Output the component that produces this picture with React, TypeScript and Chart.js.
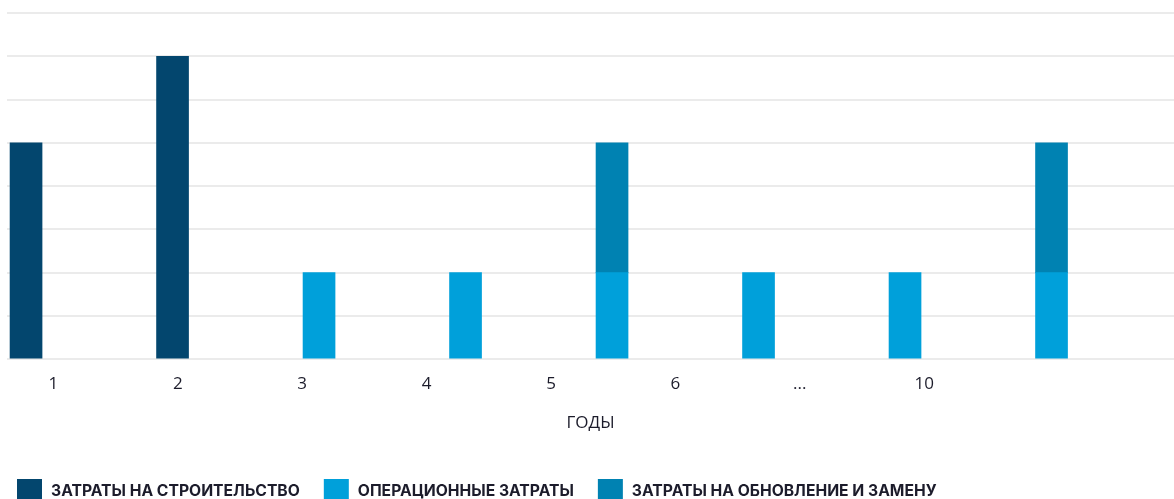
import React, { useEffect, useRef } from 'react';
import { Chart, registerables } from 'chart.js';

Chart.register(...registerables);

// Year labels along the bottom axis
const YEAR_LABELS = ['1', '2', '3', '4', '5', '6', '...', '10'];

// Cost components per year slot (gridline units)
const CONSTRUCTION_COSTS: (number | null)[] = [5, 7, null, null, null, null, null, null];
const OPERATING_COSTS: (number | null)[] = [null, null, 2, 2, 2, 2, 2, 2];
const RENEWAL_COSTS: (number | null)[] = [null, null, null, null, 3, null, null, 3];

const SERIES_LABELS = [
  'ЗАТРАТЫ НА СТРОИТЕЛЬСТВО',
  'ОПЕРАЦИОННЫЕ ЗАТРАТЫ',
  'ЗАТРАТЫ НА ОБНОВЛЕНИЕ И ЗАМЕНУ',
];
const SERIES_COLORS = ['#03466e', '#00a0da', '#0082b2'];

const AXIS_TITLE = 'ГОДЫ';

// Value range of the cost axis
const Y_MIN = 0;
const Y_MAX = 8;

// Ranges of the two horizontal axes: one places the bars, the other the year labels
const BAR_AXIS_MIN = -0.13;
const BAR_AXIS_MAX = 7.836;
const YEAR_AXIS_MIN = -0.373;
const YEAR_AXIS_MAX = 9.008;

const TEXT_COLOR = '#1c1c2b';
const GRID_COLOR = '#ebebeb';

const toPoints = (values: (number | null)[]) =>
  values.map((v, i) => ({ x: i, y: v }));

// Legend row drawn under the axis title
const legendRow = {
  id: 'legendRow',
  afterDraw(chart: any) {
    const { ctx } = chart;
    const box = 25;
    const boxTop = chart.height - 20;
    const baseline = chart.height - 3;
    let x = 17;
    ctx.save();
    ctx.font = '700 15.7px Inter';
    ctx.textBaseline = 'alphabetic';
    ctx.textAlign = 'left';
    chart.data.datasets.forEach((ds: any) => {
      ctx.fillStyle = ds.backgroundColor;
      ctx.fillRect(x, boxTop, box, box);
      x += box + 9;
      ctx.fillStyle = TEXT_COLOR;
      ctx.fillText(ds.label, x, baseline);
      x += ctx.measureText(ds.label).width + 24;
    });
    ctx.restore();
  },
};

export default function App() {
  const canvasRef = useRef<HTMLCanvasElement | null>(null);

  useEffect(() => {
    if (!canvasRef.current) return;
    const seriesValues = [CONSTRUCTION_COSTS, OPERATING_COSTS, RENEWAL_COSTS];
    const chart = new Chart(canvasRef.current, {
      type: 'bar',
      data: {
        datasets: seriesValues.map((values, i) => ({
          label: SERIES_LABELS[i],
          data: toPoints(values),
          backgroundColor: SERIES_COLORS[i],
          borderWidth: 0,
          barThickness: 32,
          xAxisID: 'x',
          yAxisID: 'y',
        })),
      },
      options: {
        animation: false,
        responsive: true,
        maintainAspectRatio: false,
        layout: { padding: { left: 7, right: 0, top: 13, bottom: 66 } },
        plugins: {
          legend: { display: false },
          tooltip: { enabled: false },
        },
        scales: {
          x: {
            type: 'linear',
            stacked: true,
            offset: false,
            min: BAR_AXIS_MIN,
            max: BAR_AXIS_MAX,
            display: false,
            grid: { offset: false },
          },
          years: {
            type: 'linear',
            position: 'bottom',
            offset: false,
            min: YEAR_AXIS_MIN,
            max: YEAR_AXIS_MAX,
            grid: { display: false, drawTicks: false, offset: false },
            border: { display: false },
            afterBuildTicks: (scale: any) => {
              scale.ticks = YEAR_LABELS.map((_, i) => ({ value: i }));
            },
            ticks: {
              autoSkip: false,
              maxRotation: 0,
              padding: 15,
              color: TEXT_COLOR,
              font: { family: '"Open Sans"', size: 17 },
              callback: (value: any) => YEAR_LABELS[value as number] ?? '',
            },
            title: {
              display: true,
              text: AXIS_TITLE,
              color: TEXT_COLOR,
              font: { family: '"Open Sans"', size: 17 },
              padding: { top: 3, bottom: 0 },
            },
          },
          y: {
            stacked: true,
            min: Y_MIN,
            max: Y_MAX,
            ticks: { display: false, stepSize: 1 },
            grid: { color: GRID_COLOR, lineWidth: 2, drawTicks: false },
            border: { display: false },
          },
        },
      },
      plugins: [legendRow],
    });
    return () => chart.destroy();
  }, []);

  return (
    <div style={{ position: 'absolute', left: 0, top: 0, width: 1174, height: 499, background: '#ffffff' }}>
      <canvas ref={canvasRef} />
    </div>
  );
}
